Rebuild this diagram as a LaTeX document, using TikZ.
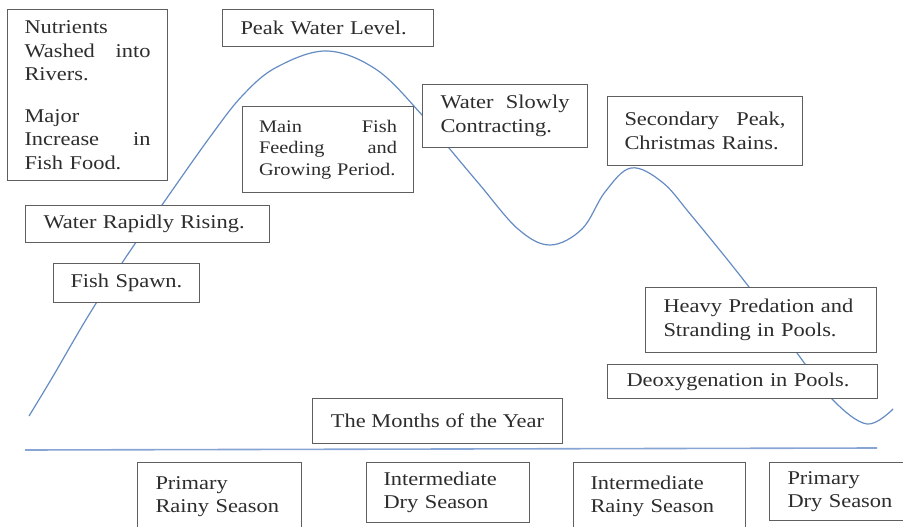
\documentclass[tikz,border=0pt]{standalone}
\usepackage{fontspec}
\setmainfont{Liberation Serif}[FakeStretch=1.15]
\usetikzlibrary{positioning}
\definecolor{curveblue}{RGB}{100,140,195}
\definecolor{axisblue}{RGB}{135,165,212}
\definecolor{boxgray}{RGB}{95,95,95}
\definecolor{textgray}{RGB}{45,45,45}
\newcommand{\labelfont}{\fontsize{19.5}{23.5}\selectfont}
\newcommand{\smallerfont}{\fontsize{17.7}{21.5}\selectfont}

\begin{document}
\begin{tikzpicture}[
				x=1pt, y=-1pt,
				stage/.style={draw=boxgray, line width=1pt, fill=white, text=textgray,
					anchor=north west, align=left, inner ysep=2pt, font=\labelfont}
			]
				\useasboundingbox (0,0) rectangle (903,527);
				\clip (0,0) rectangle (903,527);
				\draw [curveblue, line width=1.2pt] plot [smooth, tension=0.6] coordinates {
					(29,416) (52,378) (87,318) (122,263) (162,205) (210,137) (243,95) (277,67)
					(327,51) (377,70) (422,115) (449,148) (480,185) (518,229) (550,245)
					(582,229) (605,192) (631,168) (662,182) (691,215) (749,287) (797,353)
					(833,400) (867,424) (893,409)};
				\coordinate (axisl) at (25,450);
				\coordinate (axisr) at (877,448);
				\draw [axisblue, line width=1.6pt] (axisl) -- (axisr);
				\node [stage, text width=126pt, inner xsep=17pt, minimum height=171pt] (nutrients) at (7,9)
					{Nutrients\\ Washed\hfill into\\ Rivers.\\[18pt] Major\\ Increase\hfill in\\ Fish Food.};
				\node [stage, text width=175pt, inner xsep=18pt, minimum height=37pt] (peak) at (222,9) {Peak Water Level.};
				\node [stage, font=\smallerfont, text width=138pt, inner xsep=16.5pt, minimum height=86pt] (feeding) at (242,106)
					{Main\hfill Fish\\ Feeding\hfill and\\ Growing Period.};
				\node [stage, text width=129pt, inner xsep=18pt, minimum height=63pt] (slowly) at (422,84)
					{Water\hfill Slowly\\ Contracting.};
				\node [stage, text width=161pt, inner xsep=17pt, minimum height=69pt] (secondary) at (607,96)
					{Secondary\hfill Peak,\\ Christmas Rains.};
				\node [stage, text width=208pt, inner xsep=18pt, minimum height=37pt] (rising) at (25,205) {Water Rapidly Rising.};
				\node [stage, text width=112pt, inner xsep=17pt, minimum height=39pt] (spawn) at (53,263) {Fish Spawn.};
				\node [stage, text width=195pt, inner xsep=18pt, minimum height=65pt] (predation) at (645,287)
					{Heavy Predation and\\ Stranding in Pools.};
				\node [stage, text width=232pt, inner xsep=19pt, minimum height=34pt] (deoxy) at (607,364) {Deoxygenation in Pools.};
				\node [stage, align=center, minimum width=250pt, minimum height=45pt] (months) at (312,398) {The Months of the Year};
				\node [stage, text width=128pt, inner xsep=18pt, minimum height=68pt] (primrainy) at (137,462) {Primary\\ Rainy Season};
				\node [stage, text width=129pt, inner xsep=17pt, minimum height=60pt] (interdry) at (366,462) {Intermediate\\ Dry Season};
				\node [stage, text width=138pt, inner xsep=17pt, minimum height=68pt] (interrainy) at (573,462) {Intermediate\\ Rainy Season};
				\node [stage, text width=109pt, inner xsep=18pt, minimum height=58pt] (primdry) at (769,462) {Primary\\ Dry Season};
			\end{tikzpicture}
\end{document}
